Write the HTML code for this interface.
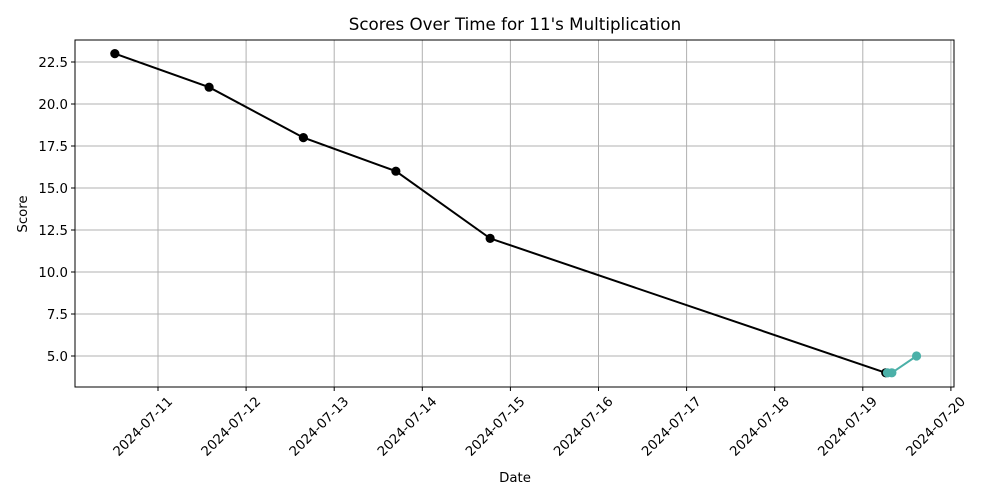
<!DOCTYPE html>
<html><head><meta charset="utf-8"><style>body{margin:0;background:#fff}svg{display:block;font-family:"DejaVu Sans","Liberation Sans",sans-serif}</style></head>
<body>
<svg id="c" width="1000" height="500"></svg>
<script>
const blackDays=[-0.49,0.58,1.65,2.70,3.77,8.26];
const blackScores=[23,21,18,16,12,4];
const tealDays=[8.28,8.33,8.61];
const tealScores=[4,4,5];
const xTickLabels=["2024-07-11","2024-07-12","2024-07-13","2024-07-14","2024-07-15","2024-07-16","2024-07-17","2024-07-18","2024-07-19","2024-07-20"];
const yTicks=[5,7.5,10,12.5,15,17.5,20,22.5];
const L=75,R=954,T=40,B=387;
const X=d=>158+d*88.1;
const Y=v=>356-(v-5)*16.8;
const svg=document.getElementById('c');
const NS='http://www.w3.org/2000/svg';
function mk(t,a,p){const e=document.createElementNS(NS,t);for(const k in a)e.setAttribute(k,a[k]);(p||svg).appendChild(e);return e;}
xTickLabels.forEach((s,i)=>{const x=X(i);
const g=mk('line',{x1:x,x2:x,y1:T,y2:B,stroke:'#b0b0b0','stroke-width':1});


const tk=mk('line',{x1:x,x2:x,y1:B,y2:B+4,stroke:'#000'});


const ax0=x+9,ay0=B+9;
const t=mk('text',{x:ax0,y:ay0,'font-size':13.3,'text-anchor':'end',transform:`rotate(-45 ${ax0} ${ay0})`,'dominant-baseline':'hanging'});
t.textContent=s;

});
yTicks.forEach(v=>{const y=Y(v);
const g=mk('line',{x1:L,x2:R,y1:y,y2:y,stroke:'#b0b0b0','stroke-width':1});


const tk=mk('line',{x1:L-4,x2:L,y1:y,y2:y,stroke:'#000'});


const t=mk('text',{x:L-7,y:y+5,'font-size':13.3,'text-anchor':'end'});
t.textContent=v.toFixed(1);

});
const ax=mk('rect',{x:L,y:T,width:R-L,height:B-T,fill:'none',stroke:'#000','stroke-width':1});


function series(days,vals,col,name){
const p=mk('polyline',{points:days.map((d,i)=>X(d)+','+Y(vals[i])).join(' '),fill:'none',stroke:col,'stroke-width':2});


days.forEach((d,i)=>{const c=mk('circle',{cx:X(d),cy:Y(vals[i]),r:4.6,fill:col});

});}
series(blackDays,blackScores,'#000','black-series');
series(tealDays,tealScores,'#4bb0a8','teal-series');
const ti=mk('text',{x:515,y:30,'font-size':16.7,'text-anchor':'middle'});ti.textContent="Scores Over Time for 11's Multiplication";


const xl=mk('text',{x:515,y:482,'font-size':13.3,'text-anchor':'middle'});xl.textContent='Date';


const yl=mk('text',{x:27,y:214,'font-size':13.3,'text-anchor':'middle',transform:'rotate(-90 27 214)'});yl.textContent='Score';


</script>
</body></html>
